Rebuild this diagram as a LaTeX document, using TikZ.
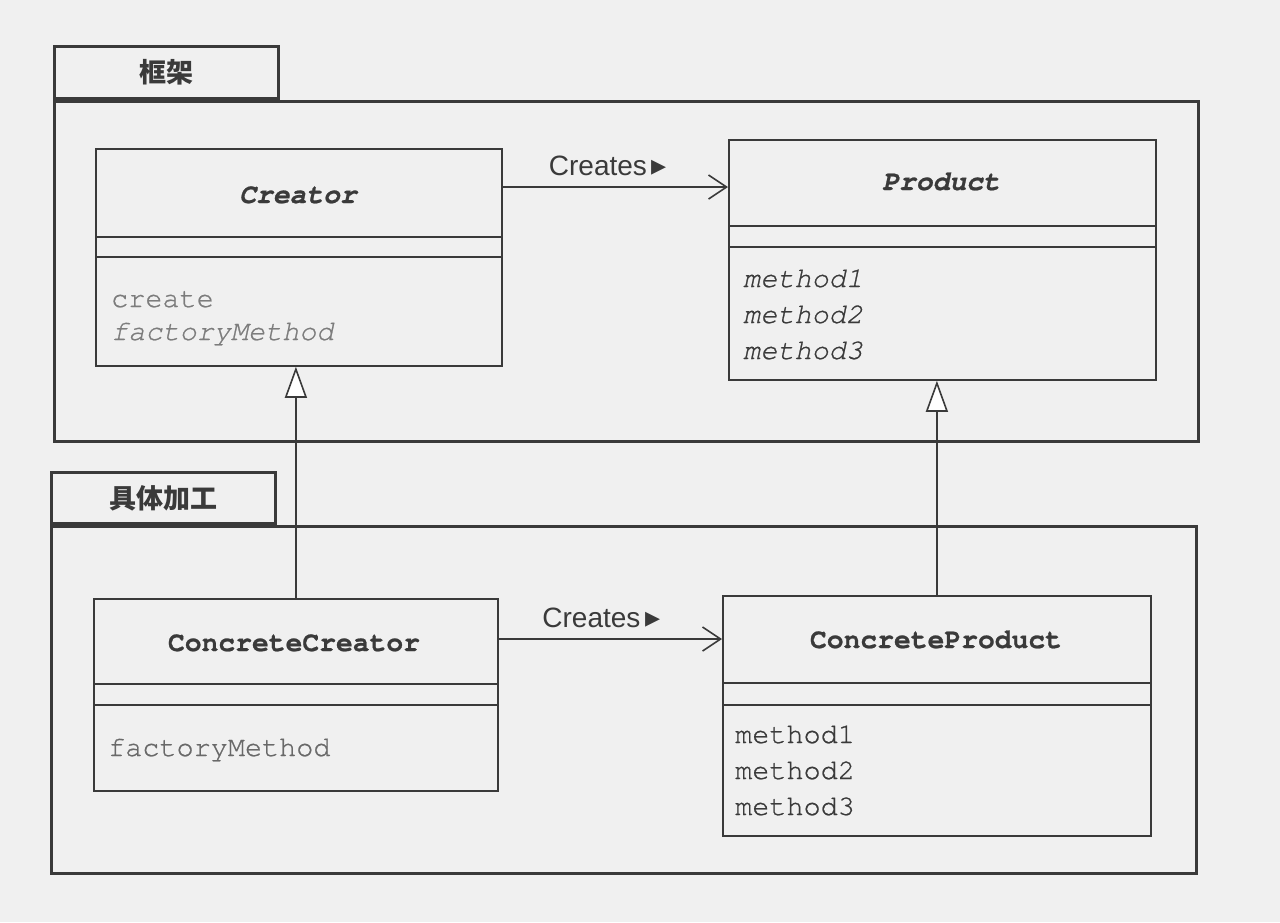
\documentclass[tikz,border=0pt]{standalone}
\usepackage{fontspec}
\setmainfont{Liberation Sans}
\setmonofont{TeX Gyre Cursor}[FakeBold=0.8]
\newfontfamily\cjkfont{Noto Sans CJK SC}
\newfontfamily\symfont{DejaVu Sans}
\usetikzlibrary{arrows.meta,calc}
\definecolor{ink}{HTML}{3A3A3A}
\definecolor{paper}{HTML}{F0F0F0}
\definecolor{lightink}{HTML}{7C7C7C}
\definecolor{midink}{HTML}{3A3A3A}
\begin{document}
\begin{tikzpicture}[x=1pt,y=-1pt,
  pkgline/.style={draw=ink, line width=2.6pt, inner sep=0pt},
  clsbox/.style={draw=ink, line width=1.8pt, inner sep=0pt, anchor=north west},
  cline/.style={draw=ink, line width=1.8pt},
  tabtext/.style={font=\cjkfont\bfseries\fontsize{27}{30}\selectfont, text=ink},
  nametext/.style={font=\ttfamily\bfseries\fontsize{28}{32}\selectfont, text=ink, anchor=base, inner sep=0pt},
  memtext/.style={font=\ttfamily\fontsize{28.5}{32}\selectfont, text=midink, anchor=base west, inner sep=0pt},
  assoc/.style={draw=ink, line width=1.6pt, -{Straight Barb[length=18pt,width=24pt,line width=1.6pt]}},
  inherit/.style={draw=ink, line width=1.6pt, -{Triangle[length=31pt,width=22pt,fill=white,line width=1.6pt]}},
  lbl/.style={font=\fontsize{28}{32}\selectfont, text=ink, anchor=base, inner sep=0pt, yshift=12pt}]
\useasboundingbox (0,0) rectangle (1280,922);
\fill[paper] (0,0) rectangle (1280,922);

% packages
\node[pkgline, anchor=north west, minimum width=1144pt, minimum height=340pt] (frame) at (53,100) {};
\node[pkgline, anchor=south west, minimum width=224pt, minimum height=52pt, tabtext] (frametab) at (53,100) {框架};
\node[pkgline, anchor=north west, minimum width=1145pt, minimum height=347pt] (concrete) at (50,525) {};
\node[pkgline, anchor=south west, minimum width=224pt, minimum height=51pt, tabtext] (concretetab) at (50,525) {具体加工};

% Creator
\node[clsbox, minimum width=406pt, minimum height=217pt] (creator) at (95,148) {};
\draw[cline] ([yshift=-89pt]creator.north west) -- ([yshift=-89pt]creator.north east);
\draw[cline] ([yshift=-109pt]creator.north west) -- ([yshift=-109pt]creator.north east);
\node[nametext] (creatorname) at (298,203) {\itshape Creator};
\node[memtext, text=lightink] (creatorm1) at (111,307) {create};
\node[memtext, text=lightink] (creatorm2) at (111,340) {\itshape factoryMethod};

% Product
\node[clsbox, minimum width=427pt, minimum height=240pt] (product) at (728,139) {};
\draw[cline] ([yshift=-87pt]product.north west) -- ([yshift=-87pt]product.north east);
\draw[cline] ([yshift=-108pt]product.north west) -- ([yshift=-108pt]product.north east);
\node[nametext] (productname) at (941,190) {\itshape Product};
\node[memtext] (productm1) at (743,287) {\itshape method1};
\node[memtext] (productm2) at (743,323) {\itshape method2};
\node[memtext] (productm3) at (743,359) {\itshape method3};

% ConcreteCreator
\node[clsbox, minimum width=404pt, minimum height=192pt] (ccreator) at (93,598) {};
\draw[cline] ([yshift=-86pt]ccreator.north west) -- ([yshift=-86pt]ccreator.north east);
\draw[cline] ([yshift=-107pt]ccreator.north west) -- ([yshift=-107pt]ccreator.north east);
\node[nametext] (ccreatorname) at (294,651) {ConcreteCreator};
\node[memtext, text=lightink!85!black] (ccreatorm1) at (108,756) {factoryMethod};

% ConcreteProduct
\node[clsbox, minimum width=428pt, minimum height=240pt] (cproduct) at (722,595) {};
\draw[cline] ([yshift=-88pt]cproduct.north west) -- ([yshift=-88pt]cproduct.north east);
\draw[cline] ([yshift=-110pt]cproduct.north west) -- ([yshift=-110pt]cproduct.north east);
\node[nametext] (cproductname) at (936,648) {ConcreteProduct};
\node[memtext] (cproductm1) at (735,743) {method1};
\node[memtext] (cproductm2) at (735,779) {method2};
\node[memtext] (cproductm3) at (735,815) {method3};

% associations
\draw[assoc] ([yshift=-39pt]creator.north east) -- node[lbl, pos=0.467] (lbl1) {Creates\hspace{5pt}{\symfont\fontsize{30}{34}\selectfont ▸}} ([yshift=-48pt]product.north west);
\draw[assoc] ([yshift=-41pt]ccreator.north east) -- node[lbl, pos=0.46] (lbl2) {Creates\hspace{5pt}{\symfont\fontsize{30}{34}\selectfont ▸}} ([yshift=-44pt]cproduct.north west);

% generalizations
\draw[inherit] (ccreator.north) -- (ccreator.north |- creator.south);
\draw[inherit] (cproduct.north) -- (cproduct.north |- product.south);
\end{tikzpicture}
\end{document}
